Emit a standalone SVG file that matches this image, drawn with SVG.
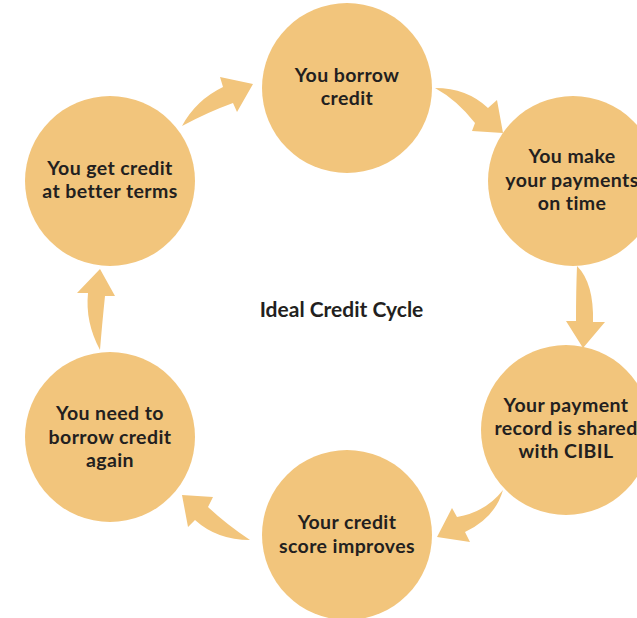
<svg xmlns="http://www.w3.org/2000/svg" width="637" height="618" viewBox="0 0 637 618">
<style>
.c{fill:#F2C57C}
.a{fill:#F2C57C}
text{font-family:Lato,"Open Sans","Liberation Sans",sans-serif;font-weight:700;font-size:19.5px;letter-spacing:0.4px;fill:#231F20;text-anchor:middle}
.t{font-size:21px;letter-spacing:0}
</style>
<rect width="637" height="618" fill="#FFFFFF"/>
<g id="connectors">
<path class="a" d="M182,126 Q196,100 223,87 L220,77 L253,84 L237,112 L233,103 Q208,112 182,126 Z"/>
<path class="a" d="M435,88 Q467,88 488,108 L497,100 L503,133 L472,131 L475,123 Q457,100 435,88 Z"/>
<path class="a" d="M577,266 Q594,283 593,322 L605,322 L583,348 L566,321 L576,321 Q576,290 577,266 Z"/>
<path class="a" d="M503,490 Q486,512 457,517 L452,508 L437,537 L470,542 L465,532 Q495,518 503,490 Z"/>
<path class="a" d="M250,540 Q226,524 208,507 L213,497 L182,495 L188,527 L195,520 Q217,540 250,540 Z"/>
<path class="a" d="M100,350 Q85,322 88,293 L77,293 L100,269 L115,296 L105,296 Q102,325 100,350 Z"/>
</g>
<g id="n1"><circle class="c" cx="347" cy="88" r="85"/><text x="347" y="82">You borrow</text><text x="347" y="105">credit</text></g>
<g id="n2"><circle class="c" cx="573" cy="181" r="85"/><text x="572" y="163">You make</text><text x="572" y="186.5">your payments</text><text x="572" y="210">on time</text></g>
<g id="n3"><circle class="c" cx="566" cy="430" r="85"/><text x="566" y="412">Your payment</text><text x="566" y="435">record is shared</text><text x="566" y="458">with CIBIL</text></g>
<g id="n4"><circle class="c" cx="347" cy="535" r="85"/><text x="347" y="529">Your credit</text><text x="347" y="553">score improves</text></g>
<g id="n5"><circle class="c" cx="110" cy="437" r="85"/><text x="110" y="420">You need to</text><text x="110" y="443.5">borrow credit</text><text x="110" y="466.5">again</text></g>
<g id="n6"><circle class="c" cx="110" cy="181" r="85"/><text x="110" y="175">You get credit</text><text x="110" y="198">at better terms</text></g>
<g id="title"><text class="t" x="341.5" y="317">Ideal Credit Cycle</text></g>
</svg>
